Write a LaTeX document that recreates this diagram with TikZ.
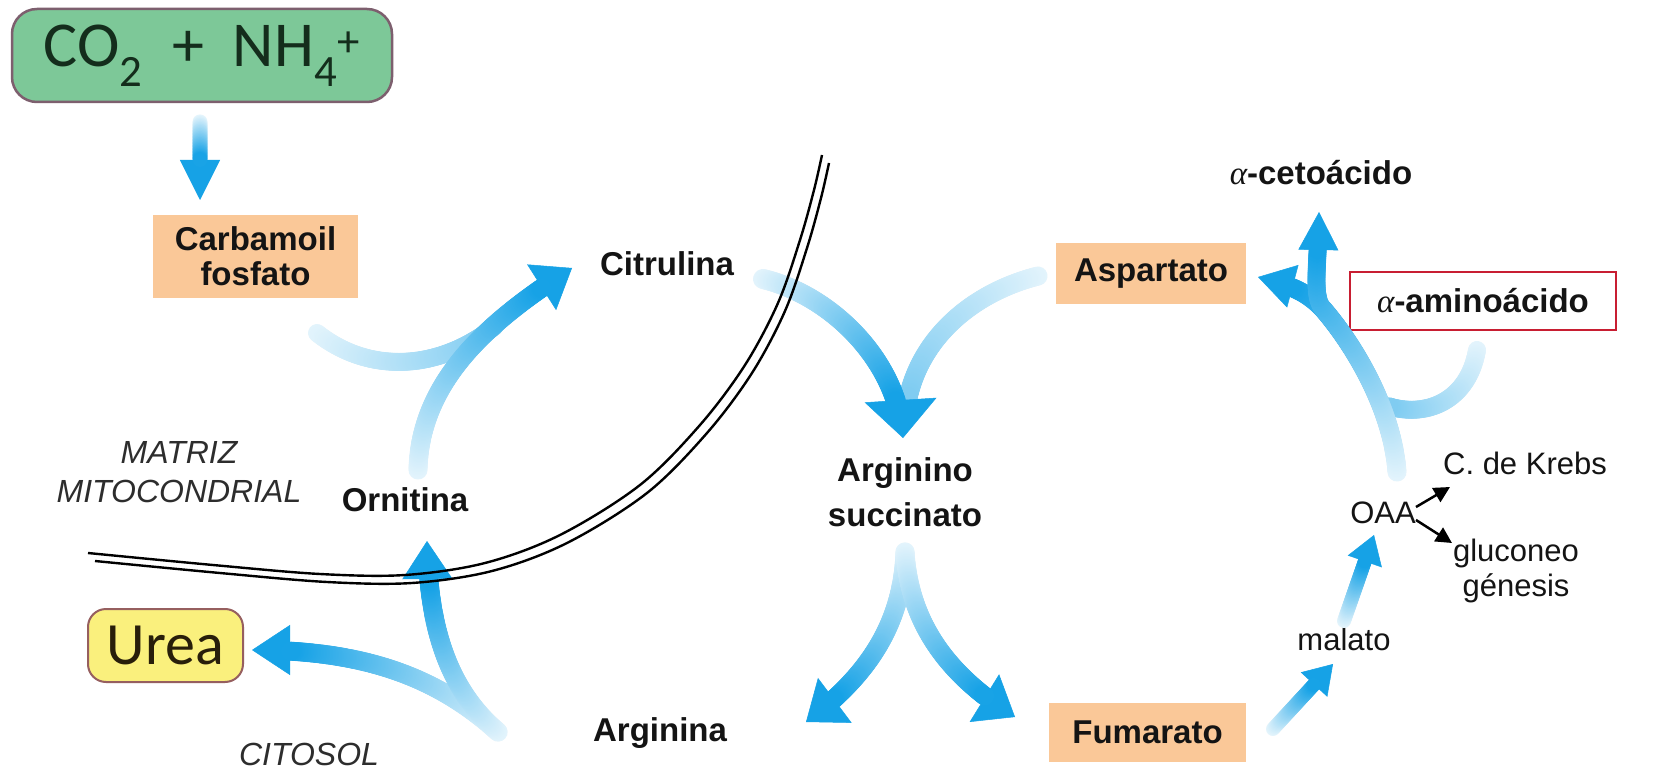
\documentclass[tikz,border=0pt]{standalone}
\usepackage{fontspec}
\setmainfont{Liberation Sans}
\newfontfamily\calfont{Carlito}
\newfontfamily\alphafont{Liberation Serif}
\usetikzlibrary{arrows.meta,decorations.markings}
\definecolor{flowblue}{RGB}{22,162,230}
\definecolor{peach}{RGB}{250,200,152}
\definecolor{co2fill}{RGB}{125,200,152}
\definecolor{co2line}{RGB}{125,95,110}
\definecolor{co2txt}{RGB}{20,45,28}
\definecolor{ureafill}{RGB}{250,240,125}
\definecolor{urealine}{RGB}{150,95,95}
\definecolor{ureatxt}{RGB}{40,30,10}
\definecolor{aared}{RGB}{200,30,50}
\definecolor{txt}{RGB}{20,20,20}
\definecolor{itxt}{RGB}{45,45,45}

\newcommand\alfa{{\alphafont\mdseries\itshape α}}

% bead fill: radius, head length, start %, end %
\newcommand\beadfill[4]{%
  \pgfmathsetmacro\beadfr{\pgfkeysvalueof{/pgf/decoration/mark info/distance from start}/(\pgfdecoratedpathlength-#2)}%
  \pgfmathsetmacro\beadpc{min(100,#3+(#4-#3)*\beadfr)}%
  \fill[flowblue!\beadpc!white] (0,0) circle (#1pt);}

\tikzset{
  flow/.style n args={3}{draw=flowblue, line width=0.5pt,
    -{Triangle[width=#2pt,length=#3pt]},
    postaction={decorate, decoration={markings,
      mark=between positions 0 and -#3pt step 1.5pt with {\beadfill{#1}{#3}{12}{100}}}}},
  stream/.style={postaction={decorate, decoration={markings,
      mark=between positions 0 and 1 step 1.5pt with {\beadfill{#1}{0}{12}{55}}}}},
  lbl/.style={font=\fontsize{33}{35}\selectfont\bfseries, text=txt, align=center, inner sep=0pt},
  pbox/.style={lbl, fill=peach},
  reg/.style={font=\fontsize{31}{35}\selectfont, text=txt, align=center, inner sep=0pt},
  ital/.style={font=\fontsize{32}{39}\selectfont\itshape, text=itxt, align=center, inner sep=0pt},
  co2box/.style={draw=co2line, line width=2.5pt, fill=co2fill, rounded corners=25pt,
    minimum width=380pt, minimum height=93pt, inner sep=0pt,
    font=\calfont\fontsize{64}{70}\selectfont, text=co2txt},
  ureabox/.style={draw=urealine, line width=2pt, fill=ureafill, rounded corners=18pt,
    minimum width=155pt, minimum height=73pt, inner sep=0pt,
    font=\calfont\fontsize{60}{66}\selectfont, text=ureatxt},
  aabox/.style={lbl, draw=aared, line width=1.5pt, fill=white, minimum width=266pt, minimum height=58pt},
  blk/.style={draw=black, line width=2.5pt, -{Triangle[width=16pt,length=16pt]}},
  mem/.style={draw=black, line width=2.4pt},
}

\begin{document}
\begin{tikzpicture}[x=1pt,y=-1pt]
\fill[white] (0,0) rectangle (1670,775);
\useasboundingbox (0,0) rectangle (1670,775);

% ---------- nodes ----------
\node[co2box] (co2) at (202,55.5) {CO\textsubscript{2}\ \ +\ \ NH\textsubscript{4}\textsuperscript{+}};
\node[pbox, minimum width=205pt, minimum height=83pt] (carb) at (255.5,256.5) {Carbamoil\\fosfato};
\node[lbl] (citr) at (667,264) {Citrulina};
\node[lbl] (orn) at (405,500) {Ornitina};
\node[lbl, font=\fontsize{33}{45}\selectfont\bfseries] (argsuc) at (905,492) {Arginino\\succinato};
\node[pbox, minimum width=190pt, minimum height=61pt] (asp) at (1151,273.5) {Aspartato};
\node[lbl] (ceto) at (1321,173) {\alfa-cetoácido};
\node[aabox] (amino) at (1483,301) {\alfa-aminoácido};
\node[reg] (oaa) at (1383,513) {OAA};
\node[reg] (krebs) at (1525,463) {C. de Krebs};
\node[reg] (gluc) at (1516,571) {gluconeo\\génesis};
\node[reg] (mal) at (1344,639) {malato};
\node[pbox, minimum width=197pt, minimum height=59pt] (fum) at (1147.5,732.5) {Fumarato};
\node[lbl] (argi) at (660,733) {Arginina};
\node[ureabox] (urea) at (165.5,645.5) {Urea};
\node[ital] (matriz) at (179,472) {MATRIZ\\MITOCONDRIAL};
\node[ital] (cito) at (309,754) {CITOSOL};

% ---------- coordinates for flow arrows ----------
\coordinate (d1) at (200,122);  \coordinate (d2) at (200,200);
\coordinate (aT) at (418,470);  \coordinate (aH) at (572,268);
\coordinate (cS) at (317,333);  \coordinate (cM) at (495,326);
\coordinate (bT) at (763,279);  \coordinate (bH) at (903,438);
\coordinate (sS) at (1038,276); \coordinate (sM) at (908,398);
\coordinate (cT) at (905,552);  \coordinate (cL) at (806,722); \coordinate (cR) at (1015,717);
\coordinate (uT) at (498,732);  \coordinate (oH) at (427,541); \coordinate (uH) at (252,650);
\coordinate (rT) at (1397,472); \coordinate (rS) at (1323,309);
\coordinate (pH) at (1258,277); \coordinate (kH) at (1319,212);
\coordinate (mS) at (1477,350); \coordinate (mM) at (1388,406);
\coordinate (fT) at (1273,729); \coordinate (fH) at (1333,664);
\coordinate (lT) at (1344,621); \coordinate (lH) at (1374,535);
\coordinate (o1) at (1416,507); \coordinate (k1) at (1450,487);
\coordinate (o2) at (1416,520); \coordinate (g1) at (1452,543);

% ---------- flow arrows ----------
\draw[flow={7.5}{40}{40}] (d1) -- (d2);

\path[stream=9] (cS) .. controls (370,375) and (440,370) .. (cM);
\draw[flow={9.5}{54}{36}] (aT) .. controls (420,380) and (490,320) .. (aH);

\path[stream=9.5] (sS) .. controls (975,292) and (922,335) .. (sM);
\draw[flow={10}{72}{38}] (bT) .. controls (830,295) and (898,360) .. (bH);

\draw[flow={9.5}{56}{36}] (cT) .. controls (902,630) and (862,680) .. (cL);
\draw[flow={9.5}{56}{36}] (cT) .. controls (910,630) and (955,680) .. (cR);

\draw[flow={9.5}{50}{38}] (uT) .. controls (440,680) and (370,650) .. (uH);
\draw[flow={9.5}{50}{38}] (uT) .. controls (455,695) and (428,640) .. (oH);

\path[stream=9] (mS) .. controls (1468,402) and (1425,418) .. (mM);
\draw[flow={9.5}{44}{36}] (rT) .. controls (1392,405) and (1350,340) .. (rS) .. controls (1305,290) and (1288,285) .. (pH);
\draw[flow={9}{40}{38}] (rT) .. controls (1392,405) and (1350,340) .. (rS) .. controls (1312,295) and (1318,270) .. (kH);

\draw[flow={7}{36}{28}] (fT) -- (fH);
\draw[flow={7}{36}{28}] (lT) -- (lH);

\draw[blk] (o1) -- (k1);
\draw[blk] (o2) -- (g1);

% ---------- mitochondrial membrane ----------
\draw[mem] plot[smooth, tension=0.55] coordinates {(88,553) (213,565) (320,574) (405,575) (485,563) (560,535) (640,485) (700,425) (745,365) (778,303) (800,240) (814,190) (822,155)};
\draw[mem, shift={(7,8)}] plot[smooth, tension=0.55] coordinates {(88,553) (213,565) (320,574) (405,575) (485,563) (560,535) (640,485) (700,425) (745,365) (778,303) (800,240) (814,190) (822,155)};
\end{tikzpicture}
\end{document}
